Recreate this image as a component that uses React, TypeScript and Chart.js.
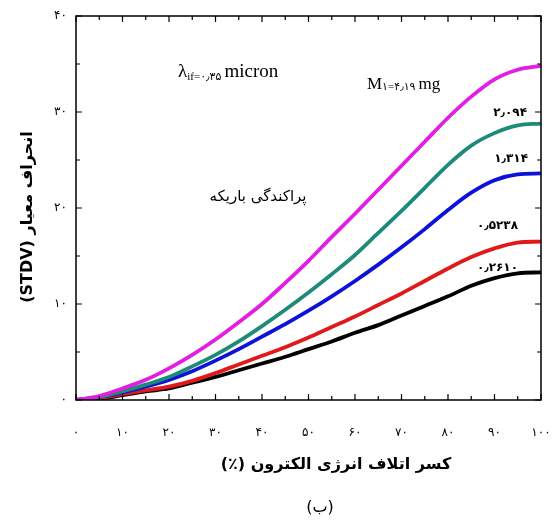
import React, { useEffect, useRef } from "react";
import { Chart, registerables } from "chart.js";

Chart.register(...registerables);

const xValues = [0, 5, 10, 15, 20, 25, 30, 35, 40, 45, 50, 55, 60, 65, 70, 75, 80, 85, 90, 95, 100];
const m4190 = [0, 0.4, 1.2, 2.1, 3.3, 4.7, 6.3, 8.1, 10.0, 12.2, 14.5, 17.0, 19.4, 21.9, 24.4, 26.9, 29.4, 31.6, 33.4, 34.4, 34.8];
const m2094 = [0, 0.3, 0.9, 1.6, 2.4, 3.5, 4.7, 6.1, 7.7, 9.4, 11.2, 13.1, 15.1, 17.4, 19.7, 22.1, 24.5, 26.5, 27.8, 28.6, 28.8];
const m1314 = [0, 0.3, 0.8, 1.4, 2.1, 3.0, 4.1, 5.3, 6.6, 7.9, 9.3, 10.8, 12.4, 14.1, 15.9, 17.8, 19.8, 21.6, 22.9, 23.5, 23.6];
const m05238 = [0, 0.2, 0.6, 1.0, 1.4, 2.0, 2.8, 3.7, 4.6, 5.5, 6.5, 7.6, 8.7, 9.9, 11.1, 12.4, 13.7, 14.9, 15.8, 16.4, 16.5];
const m02610 = [0, 0.1, 0.5, 0.9, 1.2, 1.8, 2.4, 3.1, 3.8, 4.5, 5.3, 6.1, 7.0, 7.8, 8.8, 9.8, 10.8, 11.9, 12.7, 13.2, 13.3];

const seriesLabels = ["۴٫۱۹", "۲٫۰۹۴", "۱٫۳۱۴", "۰٫۵۲۳۸", "۰٫۲۶۱۰"];
const seriesColors = ["#e21ee2", "#1e8a78", "#0c12d8", "#e01a1a", "#000000"];
const seriesValues = [m4190, m2094, m1314, m05238, m02610];

const xTitle = "کسر اتلاف انرژی الکترون (٪)";
const yTitle = "انحراف معیار (STDV)";
const beamText = "پراکندگی باریکه";
const panelText = "(ب)";

const faDigits = "۰۱۲۳۴۵۶۷۸۹";
const toFa = (v: number | string) => String(v).replace(/\d/g, (d) => faDigits[+d]);

const decorPlugin = {
  id: "decor",
  afterDraw(chart: any) {
    const ctx = chart.ctx as CanvasRenderingContext2D;
    const { left, right, top, bottom } = chart.chartArea;
    const xs = chart.scales.x;
    const ys = chart.scales.y;
    ctx.save();
    ctx.strokeStyle = "#000";
    ctx.lineWidth = 1.5;
    ctx.strokeRect(left, top, right - left, bottom - top);
    ctx.lineWidth = 1.2;
    for (let v = 0; v <= 100; v += 5) {
      const px = xs.getPixelForValue(v);
      const len = v % 10 === 0 ? 6 : 4;
      ctx.beginPath();
      ctx.moveTo(px, bottom);
      ctx.lineTo(px, bottom - len);
      ctx.moveTo(px, top);
      ctx.lineTo(px, top + len);
      ctx.stroke();
    }
    for (let v = 0; v <= 40; v += 5) {
      const py = ys.getPixelForValue(v);
      const len = v % 10 === 0 ? 6 : 4;
      ctx.beginPath();
      ctx.moveTo(left, py);
      ctx.lineTo(left + len, py);
      ctx.moveTo(right, py);
      ctx.lineTo(right - len, py);
      ctx.stroke();
    }

    ctx.fillStyle = "#000";
    ctx.textBaseline = "middle";

    // lambda annotation
    ctx.direction = "ltr";
    ctx.textAlign = "left";
    let x = 178;
    ctx.font = '19px "Liberation Serif", "DejaVu Serif"';
    ctx.fillText("λ", x, 72);
    x += ctx.measureText("λ").width;
    ctx.font = '11px "Liberation Serif", "DejaVu Sans"';
    const sub1 = "if=" + toFa("0") + "٫" + toFa("35");
    ctx.fillText(sub1, x, 77);
    x += ctx.measureText(sub1).width + 3;
    ctx.font = '19px "Liberation Serif", "DejaVu Serif"';
    ctx.fillText("micron", x, 72);

    // M1 annotation
    x = 367;
    ctx.font = '17px "Liberation Serif", "DejaVu Serif"';
    ctx.fillText("M", x, 85);
    x += ctx.measureText("M").width;
    ctx.font = '11px "Liberation Serif", "DejaVu Sans"';
    const sub2 = toFa("1") + "=" + seriesLabels[0];
    ctx.fillText(sub2, x, 87);
    x += ctx.measureText(sub2).width + 3;
    ctx.font = '17px "Liberation Serif", "DejaVu Serif"';
    ctx.fillText("mg", x, 85);

    // series labels
    ctx.font = 'bold 12px "DejaVu Sans"';
    ctx.textAlign = "right";
    const labelPos: [number, number][] = [
      [0, 0],
      [527, 113],
      [528, 159],
      [518, 226],
      [518, 268],
    ];
    for (let i = 1; i < seriesLabels.length; i++) {
      ctx.fillText(seriesLabels[i], labelPos[i][0], labelPos[i][1]);
    }

    // beam text
    ctx.direction = "rtl";
    ctx.textAlign = "center";
    ctx.font = '15px "DejaVu Sans"';
    ctx.fillText(beamText, 258, 197);

    // x title
    ctx.font = 'bold 16px "DejaVu Sans"';
    ctx.fillText(xTitle, 336, 465);

    // panel label
    ctx.font = '16px "DejaVu Sans"';
    ctx.fillText(panelText, 320, 508);

    // y title
    ctx.save();
    ctx.translate(28, 217);
    ctx.rotate(-Math.PI / 2);
    ctx.font = 'bold 16px "DejaVu Sans"';
    ctx.fillText(yTitle, 0, 0);
    ctx.restore();

    ctx.restore();
  },
};

export default function App() {
  const ref = useRef<HTMLCanvasElement | null>(null);
  useEffect(() => {
    document.body.style.margin = "0";
    const canvas = ref.current!;
    const chart = new Chart(canvas, {
      type: "line",
      data: {
        datasets: seriesValues.map((vals, i) => ({
          label: seriesLabels[i],
          data: xValues.map((xv, j) => ({ x: xv, y: vals[j] })),
          borderColor: seriesColors[i],
          backgroundColor: seriesColors[i],
          borderWidth: 3.8,
          pointRadius: 0,
          cubicInterpolationMode: "monotone" as const,
          fill: false,
        })),
      },
      options: {
        animation: false,
        responsive: false,
        maintainAspectRatio: false,
        layout: { padding: { top: 16, right: 13, left: 0, bottom: 0 } },
        plugins: { legend: { display: false }, tooltip: { enabled: false } },
        scales: {
          x: {
            type: "linear",
            min: 0,
            max: 100,
            grid: { display: false, drawTicks: false },
            border: { display: false },
            ticks: {
              stepSize: 10,
              padding: 26,
              color: "#000",
              font: { family: "DejaVu Sans", size: 12 },
              maxRotation: 0,
              callback: (v: any) => toFa(v),
            },
            afterFit: (s: any) => {
              s.height = 120;
              s.paddingLeft = 0;
              s.paddingRight = 0;
            },
          },
          y: {
            type: "linear",
            min: 0,
            max: 40,
            grid: { display: false, drawTicks: false },
            border: { display: false },
            ticks: {
              stepSize: 10,
              padding: 9,
              color: "#000",
              font: { family: "DejaVu Sans", size: 12 },
              callback: (v: any) => toFa(v),
            },
            afterFit: (s: any) => {
              s.width = 76;
              s.paddingTop = 0;
              s.paddingBottom = 0;
            },
          },
        },
      },
      plugins: [decorPlugin],
    });
    return () => chart.destroy();
  }, []);
  return <canvas ref={ref} width={554} height={520} style={{ display: "block" }} />;
}
